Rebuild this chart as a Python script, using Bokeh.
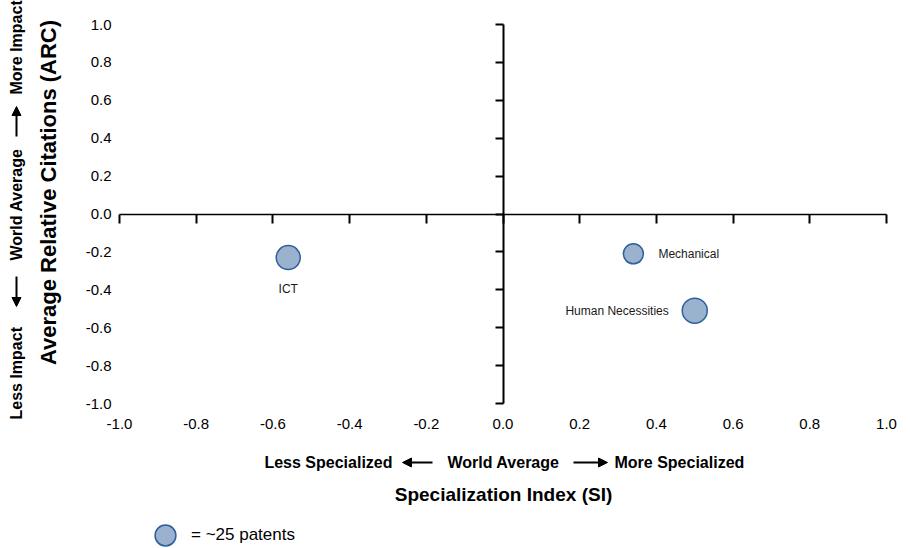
import math
from bokeh.plotting import figure
from bokeh.models import (ColumnDataSource, LinearAxis, Range1d, FixedTicker, Label, Arrow,
                          NormalHead, CustomJSTickFormatter, NumeralTickFormatter, Legend,
                          LegendItem)
from bokeh.core.properties import value
from bokeh.embed import file_html
from bokeh.resources import INLINE

# ---- data ----
fields = ["ICT", "Mechanical", "Human Necessities"]
si = [-0.56, 0.34, 0.50]
arc = [-0.23, -0.21, -0.51]
patents = [36, 25, 39]
legend_patents = 25
legend_label = "= ~25 patents"
x_ticks = [-1.0, -0.8, -0.6, -0.4, -0.2, 0.0, 0.2, 0.4, 0.6, 0.8, 1.0]
y_ticks = [-1.0, -0.8, -0.6, -0.4, -0.2, 0.0, 0.2, 0.4, 0.6, 0.8, 1.0]
x_title = "Specialization Index (SI)"
y_title = "Average Relative Citations (ARC)"
x_words = ["Less Specialized", "World Average", "More Specialized"]
y_words = ["Less Impact", "World Average", "More Impact"]

# ---- layout / style ----
W, H = 910, 548
PL, PR, PT, PB = 119, 886, 24, 403          # pixel box of the -1..1 square
SX = (PR - PL) / 2.0
SY = (PB - PT) / 2.0
FONT = "Liberation Sans"
FILL = "#9ab2ce"
EDGE = "#2f5f9e"
BASE_DIAM = 20  # px diameter for legend_patents
label_dx = [0, 25, -26]
label_dy = [31, 0, 0]
label_align = ["center", "left", "right"]


def sy(py):  # screen y measured from bottom of frame
    return H - py


sizes = [BASE_DIAM * (n / legend_patents) ** 0.5 for n in patents]
src = ColumnDataSource(dict(x=si, y=arc, name=fields, size=sizes,
                            dx=label_dx, dy=label_dy, align=label_align))

p = figure(width=W, height=H, output_backend="svg", toolbar_location=None,
           x_range=Range1d(-1 - PL / SX, 1 + (W - PR) / SX),
           y_range=Range1d(-1 - (H - PB) / SY, 1 + PT / SY),
           x_axis_location=None, y_axis_location=None, min_border=0)
p.grid.visible = False
p.outline_line_color = None

# tick labels along the -1 edges
xlab = LinearAxis(fixed_location=-1, bounds=(-1, 1), ticker=FixedTicker(ticks=x_ticks),
                  formatter=NumeralTickFormatter(format="0.0"),
                  axis_line_color=None, major_tick_line_color=None, minor_tick_line_color=None,
                  major_tick_in=0, major_tick_out=0, major_label_standoff=15,
                  major_label_text_font=FONT, major_label_text_font_size="15px",
                  major_label_text_color="black")
ylab = LinearAxis(fixed_location=-1, bounds=(-1, 1), ticker=FixedTicker(ticks=y_ticks),
                  formatter=NumeralTickFormatter(format="0.0"),
                  axis_line_color=None, major_tick_line_color=None, minor_tick_line_color=None,
                  major_tick_in=0, major_tick_out=0, major_label_standoff=8,
                  major_label_text_font=FONT, major_label_text_font_size="15px",
                  major_label_text_color="black")
p.add_layout(xlab, "below")
p.add_layout(ylab, "left")

# crossing axes at zero
xfix = LinearAxis(fixed_location=0, bounds=(-1, 1), ticker=FixedTicker(ticks=x_ticks),
                  formatter=CustomJSTickFormatter(code="return ''"),
                  axis_line_width=1.5, axis_line_color="black",
                  major_tick_in=0, major_tick_out=9, major_tick_line_width=2,
                  major_tick_line_color="black", minor_tick_line_color=None)
yfix = LinearAxis(fixed_location=0, bounds=(-1, 1), ticker=FixedTicker(ticks=y_ticks),
                  formatter=CustomJSTickFormatter(code="return ''"),
                  axis_line_width=2, axis_line_color="black",
                  major_tick_in=0, major_tick_out=8, major_tick_line_width=2,
                  major_tick_line_color="black", minor_tick_line_color=None)
p.add_layout(xfix, "below")
p.add_layout(yfix, "left")

bold = dict(x_units="screen", y_units="screen", text_font=FONT, text_font_style="bold",
            text_color="black", text_baseline="middle")

# x-axis titles
p.add_layout(Label(x=392, y=sy(462), text=x_words[0], text_align="right",
                   text_font_size="16px", **bold))
p.add_layout(Label(x=503, y=sy(462), text=x_words[1], text_align="center",
                   text_font_size="16px", **bold))
p.add_layout(Label(x=614, y=sy(462), text=x_words[2], text_align="left",
                   text_font_size="16px", **bold))
p.add_layout(Label(x=503, y=sy(494), text=x_title, text_align="center",
                   text_font_size="19px", **bold))

# y-axis titles (rotated)
rot = math.pi / 2
p.add_layout(Label(x=16, y=sy(419), text=y_words[0], text_align="left", angle=rot,
                   text_font_size="16px", **bold))
p.add_layout(Label(x=16, y=sy(204), text=y_words[1], text_align="center", angle=rot,
                   text_font_size="16px", **bold))
p.add_layout(Label(x=16, y=sy(94), text=y_words[2], text_align="left", angle=rot,
                   text_font_size="16px", **bold))
p.add_layout(Label(x=48, y=sy(192), text=y_title, text_align="center", angle=rot,
                   text_font_size="22px", **bold))

# direction arrows
def arrow(x0, y0, x1, y1):
    p.add_layout(Arrow(end=NormalHead(size=9, fill_color="black", line_color="black"),
                       x_start=x0, y_start=sy(y0), x_end=x1, y_end=sy(y1),
                       start_units="screen", end_units="screen",
                       line_width=2, line_color="black"))

arrow(432, 462, 402, 462)
arrow(573, 462, 607, 462)
arrow(16, 276, 16, 306)
arrow(16, 136, 16, 106)

# bubbles
r = p.scatter("x", "y", size="size", source=src, fill_color=FILL, line_color=EDGE,
              line_width=1.5)
p.text("x", "y", text="name", source=src, x_offset="dx", y_offset="dy",
       text_align="align", text_baseline="middle", text_font=value(FONT),
       text_font_size="12px", text_color="#1a1a1a")

# size legend
legend = Legend(items=[LegendItem(label=legend_label, renderers=[r], index=0)],
                location=(139, sy(561)), glyph_width=52, glyph_height=52, label_standoff=-12,
                padding=0, margin=0, spacing=0, border_line_color=None,
                background_fill_alpha=0, label_text_font=FONT,
                label_text_font_size="17px", label_text_color="black")
p.add_layout(legend, "center")

open("out.html", "w").write(file_html(p, INLINE))
